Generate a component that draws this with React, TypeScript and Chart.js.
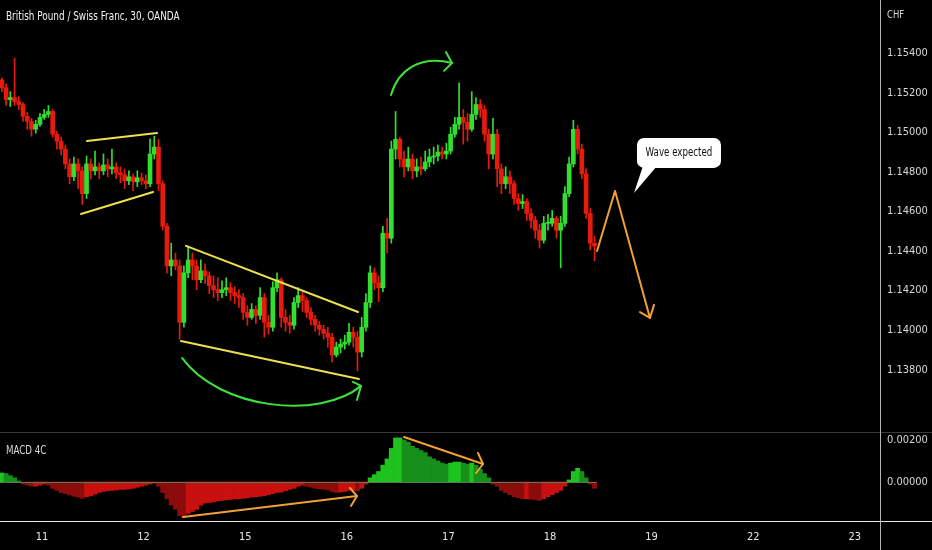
import React, { useEffect, useRef } from "react";
import { Chart, registerables } from "chart.js";

Chart.register(...registerables);

// ---------- data ----------
const DAY_LABELS = ["11", "12", "15", "16", "17", "18", "19", "22", "23"];
const FIRST_BAR_DAY = -0.395; // position of first candle, in day units (0 = "11")
const BAR_STEP_DAYS = 1 / 24;
const PRICE_TICKS = [1.154, 1.152, 1.15, 1.148, 1.146, 1.144, 1.142, 1.14, 1.138];
const MACD_TICKS = [0.002, 0];

const OPEN0 = 1.15265;
const CLOSES = [
  1.15225, 1.15165, 1.15175, 1.15155, 1.1514, 1.1508, 1.15055, 1.15015, 1.1504, 1.15075,
  1.1509, 1.15105, 1.1499, 1.14955, 1.14915, 1.1484, 1.14775, 1.1484, 1.14805, 1.1469,
  1.1484, 1.14805, 1.14825, 1.14805, 1.14835, 1.14815, 1.14825, 1.14795, 1.14785, 1.14755,
  1.14775, 1.1475, 1.1477, 1.14755, 1.1474, 1.1489, 1.14925, 1.1474, 1.14525, 1.14325,
  1.14355, 1.14325, 1.1404, 1.1429, 1.14355, 1.14325, 1.14255, 1.143, 1.14275, 1.14225,
  1.14205, 1.1419, 1.14205, 1.14215, 1.1419, 1.14175, 1.14165, 1.1409, 1.14065, 1.14105,
  1.14075, 1.14165, 1.1404, 1.14015, 1.14215, 1.14255, 1.14065, 1.1404, 1.14025, 1.1414,
  1.14175, 1.1415, 1.1409, 1.14055, 1.14025, 1.14005, 1.13985, 1.13965, 1.13875, 1.13915,
  1.1393, 1.1394, 1.1399, 1.13965, 1.1389, 1.14015, 1.1414, 1.1429, 1.1424, 1.14215,
  1.1449, 1.14465, 1.14915, 1.14965, 1.14865, 1.14825, 1.14865, 1.14805, 1.14825, 1.14815,
  1.1485, 1.14875, 1.1488, 1.149, 1.1489, 1.14905, 1.1499, 1.1504, 1.15075, 1.1505,
  1.15015, 1.1509, 1.1514, 1.15115, 1.1499, 1.1489, 1.1499, 1.14815, 1.1474, 1.14775,
  1.1474, 1.14665, 1.1464, 1.1465, 1.1459, 1.14555, 1.14505, 1.14455, 1.1454, 1.1454,
  1.14565, 1.14505, 1.1454, 1.1469, 1.1484, 1.15015, 1.14915, 1.1479, 1.1459, 1.1444,
  1.14425,
];
const HIGHS = [
  1.15275, 1.15245, 1.15205, 1.15375, 1.1518, 1.1515, 1.151, 1.1507, 1.1506, 1.15095,
  1.15115, 1.15135, 1.15115, 1.15005, 1.14975, 1.14935, 1.14865, 1.14875, 1.14865, 1.14825,
  1.1488, 1.14865, 1.14905, 1.14845, 1.1489, 1.14865, 1.14915, 1.14845, 1.14825, 1.14815,
  1.14805, 1.1479, 1.14805, 1.14795, 1.14785, 1.14965, 1.1498, 1.14965, 1.14755, 1.1454,
  1.1444, 1.1439, 1.14355, 1.14325, 1.14425, 1.1439, 1.14355, 1.14355, 1.14335, 1.14295,
  1.14275, 1.14265, 1.1425, 1.14265, 1.1424, 1.1422, 1.14205, 1.14185, 1.14125, 1.14135,
  1.14125, 1.14215, 1.14185, 1.14075, 1.14245, 1.1429, 1.14265, 1.14105, 1.14075, 1.14165,
  1.14215, 1.14195, 1.14165, 1.14115, 1.14075, 1.14045, 1.14025, 1.14015, 1.13985, 1.1394,
  1.13955, 1.13975, 1.14035, 1.14015, 1.13995, 1.14065, 1.14185, 1.14325, 1.14315, 1.14275,
  1.14525, 1.14565, 1.14955, 1.15105, 1.14975, 1.14905, 1.14925, 1.1489, 1.14865, 1.14875,
  1.14905, 1.14915, 1.14925, 1.14935, 1.14925, 1.14945, 1.15025, 1.15075, 1.1525, 1.15115,
  1.15095, 1.15205, 1.15175, 1.15165, 1.15135, 1.15015, 1.1507, 1.15015, 1.1484, 1.14825,
  1.14805, 1.14755, 1.1469, 1.14685, 1.14665, 1.14615, 1.14575, 1.14535, 1.14575, 1.14585,
  1.14605, 1.14575, 1.14575, 1.14725, 1.14875, 1.1506, 1.15035, 1.1494, 1.14815, 1.14615,
  1.14475,
];
const LOWS = [
  1.15205, 1.15135, 1.1513, 1.15135, 1.15115, 1.15055, 1.15015, 1.1498, 1.14995, 1.1503,
  1.15065, 1.15075, 1.14975, 1.14915, 1.14885, 1.14815, 1.1474, 1.14755, 1.14715, 1.14635,
  1.14665, 1.14765, 1.14785, 1.14765, 1.14785, 1.14775, 1.1479, 1.14765, 1.14745, 1.14715,
  1.14735, 1.14705, 1.14725, 1.14735, 1.14715, 1.14725, 1.14865, 1.14705, 1.14505, 1.1429,
  1.14275, 1.14305, 1.13955, 1.14015, 1.14265, 1.14255, 1.14205, 1.1424, 1.14235, 1.14185,
  1.14165, 1.1415, 1.14165, 1.14175, 1.1415, 1.14135, 1.14115, 1.14055, 1.14025, 1.14055,
  1.14035, 1.14055, 1.13965, 1.1398, 1.13995, 1.14195, 1.14015, 1.13995, 1.13985, 1.14005,
  1.14115, 1.14095, 1.14065, 1.14025, 1.13995, 1.13975, 1.13955, 1.13915, 1.1384, 1.13865,
  1.13885, 1.13905, 1.13925, 1.13915, 1.13795, 1.13865, 1.13995, 1.14115, 1.14205, 1.14145,
  1.14195, 1.1439, 1.1444, 1.14865, 1.14825, 1.14775, 1.14805, 1.14765, 1.14775, 1.14785,
  1.14805, 1.14825, 1.1484, 1.14855, 1.14865, 1.14865, 1.1489, 1.14975, 1.15015, 1.1494,
  1.14955, 1.15005, 1.15065, 1.15075, 1.14955, 1.14815, 1.14865, 1.14725, 1.1469, 1.14715,
  1.1469, 1.14635, 1.14605, 1.14615, 1.14555, 1.14515, 1.14465, 1.14415, 1.1444, 1.14505,
  1.14525, 1.14465, 1.14315, 1.14525, 1.14675, 1.14825, 1.1489, 1.14765, 1.14565, 1.14405,
  1.1435,
];
const MACD = [
  0.00043, 0.0004, 0.0003, 0.0002, 0.00005, -0.0001, -0.00015, -0.0002, -0.0002, -0.00015,
  -0.0001, -0.00015, -0.0003, -0.0004, -0.0005, -0.00055, -0.00062, -0.00068, -0.00072, -0.00078,
  -0.0007, -0.00065, -0.00058, -0.0005, -0.00045, -0.00042, -0.0004, -0.00038, -0.00035, -0.00035,
  -0.00033, -0.0003, -0.00025, -0.0002, -0.00015, -0.0001, -0.00005, -0.0002, -0.0005, -0.0008,
  -0.0011, -0.0013, -0.0016, -0.0017, -0.0015, -0.0014, -0.0013, -0.0011, -0.001, -0.00098,
  -0.00095, -0.0009, -0.00088, -0.00085, -0.00083, -0.0008, -0.0008, -0.00078, -0.00075, -0.00072,
  -0.0007, -0.00068, -0.00065, -0.0006, -0.00055, -0.0005, -0.00048, -0.00042, -0.00035, -0.0003,
  -0.0002, -0.00015, -0.0002, -0.00025, -0.0003, -0.00032, -0.00035, -0.00038, -0.00045, -0.0005,
  -0.00048, -0.00045, -0.0004, -0.0004, -0.00042, -0.0003, -0.0001, 0.0002, 0.00035, 0.0005,
  0.0008, 0.0011, 0.0016, 0.0021, 0.0021, 0.002, 0.0019, 0.0017, 0.0016, 0.0015,
  0.0014, 0.0012, 0.0011, 0.001, 0.0009, 0.00085, 0.0009, 0.00095, 0.00095, 0.0009,
  0.00085, 0.0009, 0.0008, 0.0006, 0.0004, 0.0002, -0.0001, -0.0002, -0.0004, -0.0005,
  -0.0006, -0.0007, -0.00075, -0.0008, -0.0008, -0.00082, -0.00085, -0.00088, -0.0008, -0.0007,
  -0.0006, -0.0005, -0.0004, -0.0002, 0.0001, 0.0005, 0.00065, 0.0005, 0.0002, -0.0001,
  -0.0003,
];

// drawings, in data units: [day position, price]  /  [day position, macd value]
const FLAG_UPPER = [[0.443, 1.14956], [1.132, 1.14996]];
const FLAG_LOWER = [[0.384, 1.14587], [1.093, 1.14698]];
const WEDGE_UPPER = [[1.417, 1.14426], [3.11, 1.14092]];
const WEDGE_LOWER = [[1.368, 1.13946], [3.12, 1.13754]];
const CURVE_BOTTOM = [[1.378, 1.1386], [1.752, 1.13598], [2.736, 1.13547], [3.14, 1.13719]];
const CURVE_BOTTOM_HEAD = [[3.061, 1.13739], [3.14, 1.13719], [3.1, 1.13648]];
const CURVE_TOP = [[3.435, 1.15188], [3.504, 1.15315], [3.72, 1.1539], [4.035, 1.1535]];
const CURVE_TOP_HEAD = [[3.976, 1.15405], [4.035, 1.1535], [3.957, 1.1531]];
const ZIGZAG = [[5.463, 1.144], [5.64, 1.14703], [5.984, 1.14062]];
const ZIGZAG_HEAD = [[5.886, 1.14092], [5.984, 1.14062], [6.024, 1.14128]];
const CALLOUT_TEXT = "Wave expected";
const CALLOUT_BOX = [[5.856, 1.14971], [6.683, 1.1482]];
const CALLOUT_TAIL = [[5.915, 1.1483], [6.053, 1.1483], [5.827, 1.14693]];
const MACD_ARROW1 = [[1.388, -0.001667], [3.1, -0.000667]];
const MACD_ARROW1_HEAD = [[3.031, -0.000286], [3.1, -0.000667], [3.041, -0.001143]];
const MACD_ARROW2 = [[3.563, 0.002143], [4.341, 0.000857]];
const MACD_ARROW2_HEAD = [[4.291, 0.001381], [4.341, 0.000857], [4.272, 0.000429]];

// ---------- layout / style ----------
const W = 932;
const TOP_H = 432;
const BOT_H = 118;
const X_MIN = -0.4134;
const X_MAX = 8.248;
const P_MIN = 1.13486;
const P_MAX = 1.15668;
const M_MIN = -0.001857;
const M_MAX = 0.002381;
const FONT = '"Liberation Sans Narrow", "DejaVu Sans Condensed", "Liberation Sans", Arial, sans-serif';
const GREEN = "#30e030";
const RED = "#e8190d";
const YELLOW = "#efe050";
const ARROW_GREEN = "#3ee03e";
const ORANGE = "#f0a035";

const xs = CLOSES.map((_, i) => FIRST_BAR_DAY + i * BAR_STEP_DAYS);
const opens = CLOSES.map((_, i) => (i === 0 ? OPEN0 : CLOSES[i - 1]));
const candleColors = CLOSES.map((c, i) => (c >= opens[i] ? GREEN : RED));
const macdColors = MACD.map((v, i) => {
  const prev = i === 0 ? v : MACD[i - 1];
  const rising = v >= prev;
  if (v >= 0) return rising ? "#1fc21f" : "#16901a";
  return rising ? "#c8100e" : "#8c0c0c";
});

type P = number[];

function toPx(chart: any, p: P) {
  return [chart.scales.x.getPixelForValue(p[0]), chart.scales.y.getPixelForValue(p[1])];
}
function polyline(ctx: CanvasRenderingContext2D, chart: any, pts: P[], color: string, w: number) {
  ctx.save();
  ctx.strokeStyle = color;
  ctx.lineWidth = w;
  ctx.lineCap = "round";
  ctx.lineJoin = "round";
  ctx.beginPath();
  pts.forEach((p, i) => {
    const [x, y] = toPx(chart, p);
    if (i === 0) ctx.moveTo(x, y);
    else ctx.lineTo(x, y);
  });
  ctx.stroke();
  ctx.restore();
}
function bezier(ctx: CanvasRenderingContext2D, chart: any, pts: P[], color: string, w: number) {
  const [a, b, c, d] = pts.map((p) => toPx(chart, p));
  ctx.save();
  ctx.strokeStyle = color;
  ctx.lineWidth = w;
  ctx.lineCap = "round";
  ctx.beginPath();
  ctx.moveTo(a[0], a[1]);
  ctx.bezierCurveTo(b[0], b[1], c[0], c[1], d[0], d[1]);
  ctx.stroke();
  ctx.restore();
}
function vline(ctx: CanvasRenderingContext2D, x: number, h: number, color: string) {
  ctx.save();
  ctx.strokeStyle = color;
  ctx.lineWidth = 1;
  ctx.beginPath();
  ctx.moveTo(x, 0);
  ctx.lineTo(x, h);
  ctx.stroke();
  ctx.restore();
}
function hline(ctx: CanvasRenderingContext2D, y: number, w: number, color: string) {
  ctx.save();
  ctx.strokeStyle = color;
  ctx.lineWidth = 1;
  ctx.beginPath();
  ctx.moveTo(0, y);
  ctx.lineTo(w, y);
  ctx.stroke();
  ctx.restore();
}
// narrow text (the reference uses a condensed face)
function text(
  ctx: CanvasRenderingContext2D, s: string, x: number, y: number,
  size: number, color: string, sx: number, align: CanvasTextAlign = "left"
) {
  ctx.save();
  ctx.translate(x, y);
  ctx.scale(sx, 1);
  ctx.font = `${size}px ${FONT}`;
  ctx.fillStyle = color;
  ctx.textAlign = align;
  ctx.textBaseline = "middle";
  ctx.fillText(s, 0, 0);
  ctx.restore();
}

const blackBg = {
  id: "blackBg",
  beforeDraw(chart: any) {
    const { ctx, width, height } = chart;
    ctx.save();
    ctx.fillStyle = "#000";
    ctx.fillRect(0, 0, width, height);
    ctx.restore();
  },
};

const priceDecor = {
  id: "priceDecor",
  afterDraw(chart: any) {
    const ctx: CanvasRenderingContext2D = chart.ctx;
    const ca = chart.chartArea;
    vline(ctx, Math.round(ca.right) + 0.5, chart.height, "#b4b4b4");
    text(ctx, "British Pound / Swiss Franc, 30, OANDA", 6, 17, 12.5, "#f2f2f2", 0.79);
    text(ctx, "CHF", ca.right + 7, 15, 11, "#d6d6d6", 0.85);

    polyline(ctx, chart, FLAG_UPPER, YELLOW, 2);
    polyline(ctx, chart, FLAG_LOWER, YELLOW, 2);
    polyline(ctx, chart, WEDGE_UPPER, YELLOW, 2);
    polyline(ctx, chart, WEDGE_LOWER, YELLOW, 2);
    bezier(ctx, chart, CURVE_BOTTOM, ARROW_GREEN, 2);
    polyline(ctx, chart, CURVE_BOTTOM_HEAD, ARROW_GREEN, 2);
    bezier(ctx, chart, CURVE_TOP, ARROW_GREEN, 2);
    polyline(ctx, chart, CURVE_TOP_HEAD, ARROW_GREEN, 2);
    polyline(ctx, chart, ZIGZAG, ORANGE, 2);
    polyline(ctx, chart, ZIGZAG_HEAD, ORANGE, 2);

    // callout
    const [x0, y0] = toPx(chart, CALLOUT_BOX[0]);
    const [x1, y1] = toPx(chart, CALLOUT_BOX[1]);
    const tail = CALLOUT_TAIL.map((p) => toPx(chart, p));
    ctx.save();
    ctx.fillStyle = "#ffffff";
    ctx.beginPath();
    (ctx as any).roundRect(x0, y0, x1 - x0, y1 - y0, 7);
    ctx.fill();
    ctx.beginPath();
    ctx.moveTo(tail[0][0], tail[0][1]);
    ctx.lineTo(tail[1][0], tail[1][1]);
    ctx.lineTo(tail[2][0], tail[2][1]);
    ctx.closePath();
    ctx.fill();
    ctx.restore();
    text(ctx, CALLOUT_TEXT, (x0 + x1) / 2, (y0 + y1) / 2, 11.5, "#111", 0.84, "center");
  },
};

const macdDecor = {
  id: "macdDecor",
  afterDatasetsDraw(chart: any) {
    const ctx: CanvasRenderingContext2D = chart.ctx;
    const xa = chart.scales.x;
    const y0 = Math.round(chart.scales.y.getPixelForValue(0)) + 0.5;
    ctx.save();
    ctx.strokeStyle = "#587a58";
    ctx.lineWidth = 1;
    ctx.beginPath();
    ctx.moveTo(0, y0);
    ctx.lineTo(xa.getPixelForValue(xs[xs.length - 1]) + 2, y0);
    ctx.stroke();
    ctx.restore();
    polyline(ctx, chart, MACD_ARROW1, ORANGE, 2);
    polyline(ctx, chart, MACD_ARROW1_HEAD, ORANGE, 2);
    polyline(ctx, chart, MACD_ARROW2, ORANGE, 2);
    polyline(ctx, chart, MACD_ARROW2_HEAD, ORANGE, 2);
  },
  afterDraw(chart: any) {
    const ctx: CanvasRenderingContext2D = chart.ctx;
    const ca = chart.chartArea;
    hline(ctx, 0.5, chart.width, "#3a3a3a");
    hline(ctx, Math.round(ca.bottom) + 0.5, chart.width, "#e8e8e8");
    vline(ctx, Math.round(ca.right) + 0.5, chart.height, "#b4b4b4");
    text(ctx, "MACD 4C", 6, 19, 11.5, "#d8d8d8", 0.84);
  },
};

const noPad = (s: any) => {
  s.paddingTop = 0;
  s.paddingBottom = 0;
  s.paddingLeft = 0;
  s.paddingRight = 0;
};

const yAxis = (min: number, max: number, ticks: number[]) => ({
  position: "right" as const,
  min,
  max,
  grid: { display: false, drawTicks: false },
  border: { display: false },
  ticks: {
    color: "#d6d6d6",
    font: { family: FONT, size: 11 },
    padding: 7,
    callback: (v: any) => Number(v).toFixed(5),
  },
  afterBuildTicks: (s: any) => {
    s.ticks = ticks.map((v) => ({ value: v }));
  },
  afterFit: (s: any) => {
    s.width = W - 880;
    noPad(s);
  },
});

export default function App() {
  const topRef = useRef<HTMLCanvasElement>(null);
  const botRef = useRef<HTMLCanvasElement>(null);

  useEffect(() => {
    const top = new Chart(topRef.current!, {
      type: "bar",
      data: {
        datasets: [
          {
            label: "wick",
            data: xs.map((x, i) => ({ x, y: [LOWS[i], HIGHS[i]] })) as any,
            backgroundColor: candleColors,
            barThickness: 1,
            grouped: false,
            order: 2,
            borderWidth: 0,
          },
          {
            label: "body",
            data: xs.map((x, i) => ({ x, y: [opens[i], CLOSES[i]] })) as any,
            backgroundColor: candleColors,
            barThickness: 4,
            grouped: false,
            order: 1,
            borderWidth: 0,
            minBarLength: 1,
          },
        ],
      },
      options: {
        responsive: false,
        animation: false,
        events: [],
        layout: { padding: 0, autoPadding: false },
        plugins: { legend: { display: false }, tooltip: { enabled: false } },
        scales: {
          x: { type: "linear", min: X_MIN, max: X_MAX, display: false, offset: false },
          y: yAxis(P_MIN, P_MAX, PRICE_TICKS) as any,
        },
      },
      plugins: [blackBg, priceDecor],
    });

    const bot = new Chart(botRef.current!, {
      type: "bar",
      data: {
        datasets: [
          {
            label: "MACD",
            data: xs.map((x, i) => ({ x, y: MACD[i] })) as any,
            backgroundColor: macdColors,
            barPercentage: 1,
            categoryPercentage: 1,
            borderWidth: 0,
          },
        ],
      },
      options: {
        responsive: false,
        animation: false,
        events: [],
        layout: { padding: 0, autoPadding: false },
        plugins: { legend: { display: false }, tooltip: { enabled: false } },
        scales: {
          x: {
            type: "linear",
            min: X_MIN,
            max: X_MAX,
            offset: false,
            grid: { display: false, drawTicks: false },
            border: { display: false },
            ticks: {
              color: "#e6e6e6",
              font: { family: FONT, size: 11 },
              padding: 10,
              autoSkip: false,
              maxRotation: 0,
              callback: (v: any) => DAY_LABELS[Math.round(Number(v))] ?? "",
            },
            afterBuildTicks: (s: any) => {
              s.ticks = DAY_LABELS.map((_, i) => ({ value: i }));
            },
            afterFit: (s: any) => {
              s.height = 29;
              noPad(s);
            },
          } as any,
          y: yAxis(M_MIN, M_MAX, MACD_TICKS) as any,
        },
      },
      plugins: [blackBg, macdDecor],
    });

    return () => {
      top.destroy();
      bot.destroy();
    };
  }, []);

  return (
    <div style={{ position: "absolute", left: 0, top: 0, width: W, height: TOP_H + BOT_H, background: "#000" }}>
      <canvas ref={topRef} width={W} height={TOP_H} style={{ position: "absolute", left: 0, top: 0, display: "block" }} />
      <canvas ref={botRef} width={W} height={BOT_H} style={{ position: "absolute", left: 0, top: TOP_H, display: "block" }} />
    </div>
  );
}
